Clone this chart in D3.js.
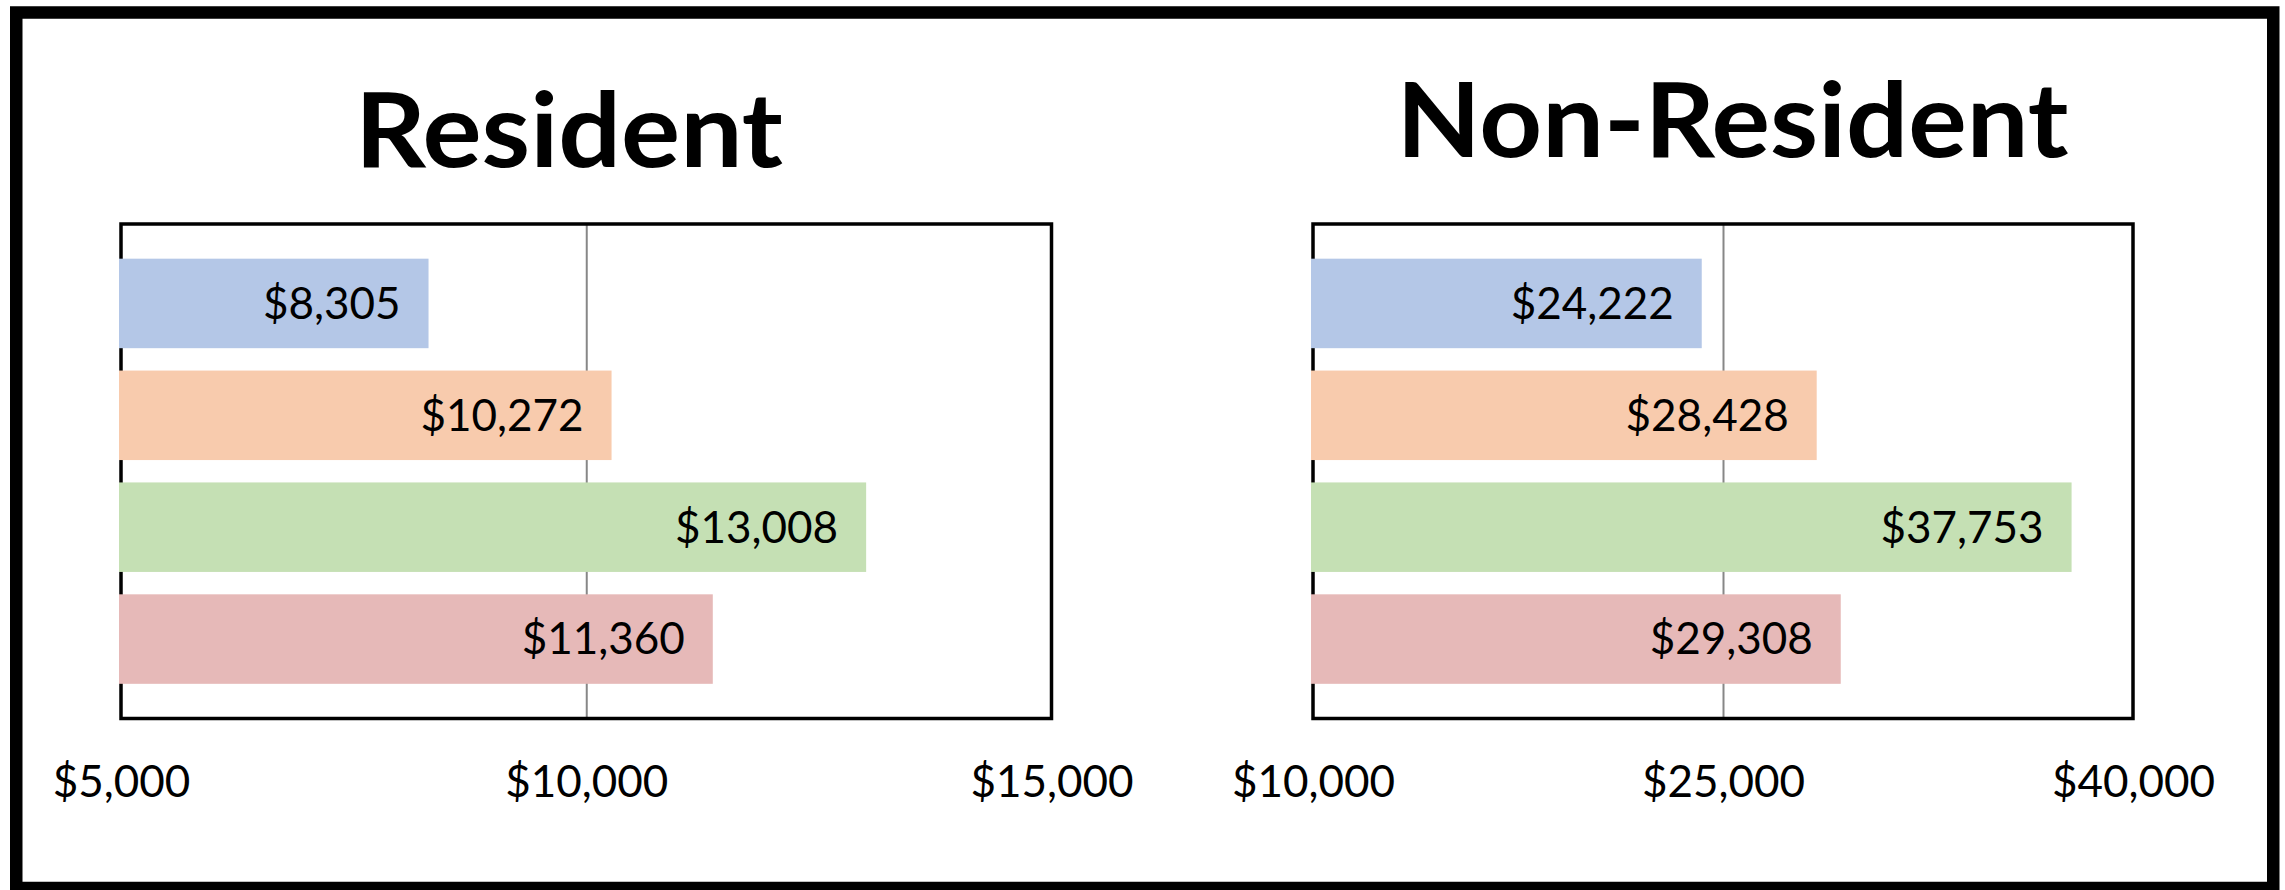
<!DOCTYPE html>
<html>
<head>
<meta charset="utf-8">
<script src="https://cdn.jsdelivr.net/npm/d3@7"></script>
<style>
  body { margin: 0; background: #fff; }
  svg { display: block; font-family: Lato, "Open Sans", sans-serif; }
</style>
</head>
<body>
<div id="viz"></div>
<script>
// Data
const categories = ["Group 1", "Group 2", "Group 3", "Group 4"];
const barColors = ["#B4C7E7", "#F8CBAD", "#C5E0B4", "#E6B9B8"];
const residentValues = [8305, 10272, 13008, 11360];
const nonResidentValues = [24222, 28428, 37753, 29308];
const residentTicks = [5000, 10000, 15000];
const nonResidentTicks = [10000, 25000, 40000];
const titles = ["Resident", "Non-Resident"];

// Layout
const w = 2285, h = 890;
const plotTop = 224, plotBottom = 718.5;
const frameW = 4;
const money = d3.format("$,.0f");

const panels = [
	{title: titles[0], values: residentValues, ticks: residentTicks, x0: 121, x1: 1051.5, titleX: 569, titleY: 167, titleW: 428},
	{title: titles[1], values: nonResidentValues, ticks: nonResidentTicks, x0: 1313, x1: 2133, titleX: 1732.5, titleY: 157, titleW: 672}
];

const svg = d3.select("#viz")
	.append("svg")
	.attr("width", w)
	.attr("height", h);

svg.append("rect")
	.attr("width", w).attr("height", h)
	.attr("fill", "#fff");

// outer black border
svg.append("rect")
	.attr("x", 16.25).attr("y", 12.5)
	.attr("width", 2257).attr("height", 875.5)
	.attr("fill", "none")
	.attr("stroke", "#000")
	.attr("stroke-width", 12.5);

const yScale = d3.scaleBand()
	.domain(categories)
	.range([plotTop, plotBottom])
	.paddingInner(0.2)
	.paddingOuter(0.31);

const colors = d3.scaleOrdinal().domain(categories).range(barColors);

panels.forEach(p => {
	const xScale = d3.scaleLinear()
		.domain(d3.extent(p.ticks))
		.range([p.x0, p.x1]);
	const g = svg.append("g");

	// title
	g.append("text")
		.attr("x", p.titleX)
		.attr("y", p.titleY)
		.attr("text-anchor", "middle")
		.attr("font-weight", 700)
		.attr("font-size", 103)
		.attr("textLength", p.titleW)
		.attr("lengthAdjust", "spacingAndGlyphs")
		.text(p.title);

	// gridlines
	const grid = g.append("g")
		.attr("transform", `translate(0,${plotBottom})`)
		.call(d3.axisBottom(xScale)
			.tickValues(p.ticks.slice(1, -1))
			.tickSize(-(plotBottom - plotTop))
			.tickFormat(""));
	grid.select(".domain").remove();
	grid.selectAll(".tick line")
		.attr("stroke", "#878787")
		.attr("stroke-width", 2);

	// plot frame
	g.append("rect")
		.attr("x", p.x0).attr("y", plotTop)
		.attr("width", p.x1 - p.x0)
		.attr("height", plotBottom - plotTop)
		.attr("fill", "none")
		.attr("stroke", "#000")
		.attr("stroke-width", 3.5);

	const rows = categories.map((c, i) => ({cat: c, val: p.values[i]}));
	const base = xScale.domain()[0];

	// bars
	g.selectAll(".bar")
		.data(rows)
		.enter()
		.append("rect")
		.attr("class", "bar")
		.attr("x", xScale(base) - frameW / 2)
		.attr("y", d => yScale(d.cat))
		.attr("width", d => xScale(d.val) - xScale(base) + frameW / 2)
		.attr("height", yScale.bandwidth())
		.attr("fill", d => colors(d.cat));

	// value labels inside bar end
	g.selectAll(".lbl")
		.data(rows)
		.enter()
		.append("text")
		.attr("class", "lbl")
		.attr("x", d => xScale(d.val) - 28)
		.attr("y", d => yScale(d.cat) + yScale.bandwidth() / 2)
		.attr("dy", "0.35em")
		.attr("text-anchor", "end")
		.attr("font-size", 44)
		.attr("fill", "#000")
		.text(d => money(d.val));

	// tick labels
	const ax = g.append("g")
		.attr("transform", `translate(0,${plotBottom})`)
		.call(d3.axisBottom(xScale)
			.tickValues(p.ticks)
			.tickSize(0)
			.tickPadding(47)
			.tickFormat(money));
	ax.select(".domain").remove();
	ax.selectAll("text")
		.attr("font-size", 44)
		.attr("font-family", "Lato, 'Open Sans', sans-serif")
		.attr("fill", "#000");
});
</script>
</body>
</html>
